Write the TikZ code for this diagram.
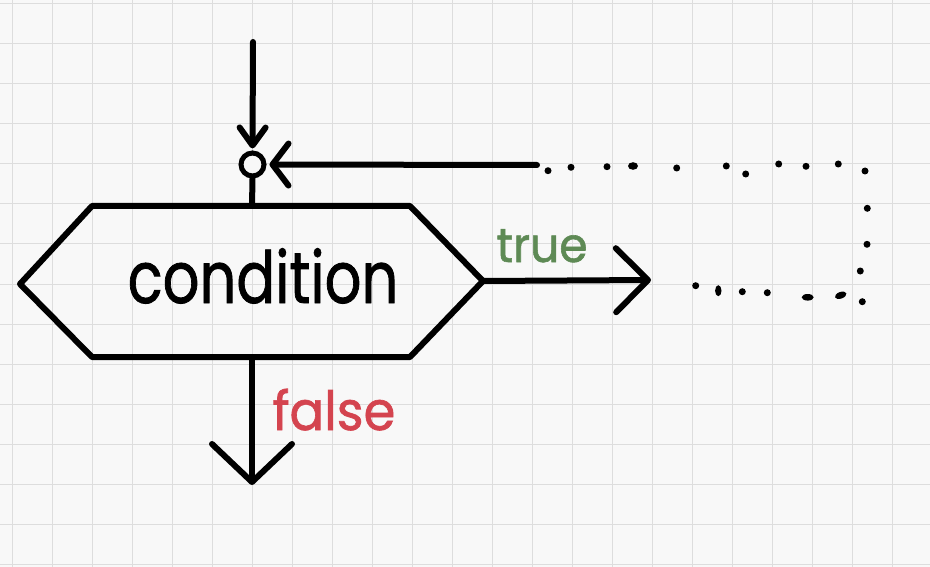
\documentclass[tikz,border=0pt]{standalone}
\usepackage{fontspec}
\setmainfont{Poppins}
\newfontfamily\handfont[FakeBold=1.2]{Poppins}
\usetikzlibrary{arrows.meta}
\definecolor{paper}{HTML}{F8F8F8}
\definecolor{gridc}{HTML}{DDDDDD}
\definecolor{truec}{HTML}{5E8A55}
\definecolor{falsec}{HTML}{D4444F}
\begin{document}
\begin{tikzpicture}[x=1pt,y=-1pt,
  ln/.style={line width=6pt, line cap=round, line join=round},
  gridline/.style={gridc, line width=1pt},
  dotc/.style={fill=black, draw=none},
  lbl/.style={inner sep=0pt, anchor=base}]
\fill[paper] (0,0) rectangle (930,567);
\useasboundingbox (0,0) rectangle (930,567);
\foreach \x in {12,52,...,932} \draw[gridline] (\x,0) -- (\x,567);
\foreach \y in {4,44,...,564} \draw[gridline] (0,\y) -- (930,\y);
% hexagon
\coordinate (tl) at (92,206);
\coordinate (tr) at (410,206);
\coordinate (r) at (483,281);
\coordinate (br) at (410,357);
\coordinate (bl) at (92,357);
\coordinate (l) at (20,284);
\draw[ln] (tl) -- (tr) -- (r) -- (br) -- (bl) -- (l) -- cycle;
\node[lbl, font=\handfont\fontsize{72}{72}\selectfont, xscale=0.8] (cond) at (263,303) {condition};
% join circle
\node[circle, draw, line width=5pt, minimum size=23pt, inner sep=0pt, fill=paper] (join) at (252.5,164.5) {};
\coordinate (start) at (253,42);
\coordinate (ht) at (252,206);
\coordinate (loopend) at (537,165);
\coordinate (tend) at (651,280);
\coordinate (fb) at (252,357);
\coordinate (fend) at (252,485);
\draw[ln, -{Straight Barb[length=18pt,width=26pt,round]}] (start) -- ([yshift=2pt]join.north);
\draw[ln, -{Straight Barb[length=16pt,width=42pt,round]}] (loopend) -- ([xshift=3pt]join.east);
\draw[ln] (join.south) -- (ht);
\draw[ln, -{Straight Barb[length=32pt,width=64pt,round]}] (r) -- (tend);
\draw[ln, -{Straight Barb[length=38pt,width=80pt,round]}] (fb) -- (fend);
% labels
\node[lbl, text=truec, font=\handfont\fontsize{48}{48}\selectfont, xscale=0.95] (truelbl) at (542,262) {true};
\node[lbl, text=falsec, font=\handfont\fontsize{54}{54}\selectfont, xscale=0.95] (falselbl) at (334,430) {false};
% dotted loop
\foreach \p in {(548,170.7),(571,167.3),(607,166.7),(676.7,168),(726.3,166),(745.7,174),(778.7,164),(806,166.3),(838.3,164),(865,171),
  (867.3,208.3),(867,244.3),(860.3,271),(862.3,301.7),
  (695.7,285.7),(742.3,291.7),(767.3,292.7)}
  \fill[dotc] \p circle (3.5pt);
\fill[dotc] (633,166) ellipse [x radius=5pt, y radius=3.8pt];
\fill[dotc] (718.3,290.7) ellipse [x radius=3.2pt, y radius=5.5pt];
\fill[dotc] (807.7,297.3) ellipse [x radius=6pt, y radius=3.3pt];
\fill[dotc, rotate around={20:(840.7,295.3)}] (840.7,295.3) ellipse [x radius=6pt, y radius=3.3pt];
\end{tikzpicture}
\end{document}
